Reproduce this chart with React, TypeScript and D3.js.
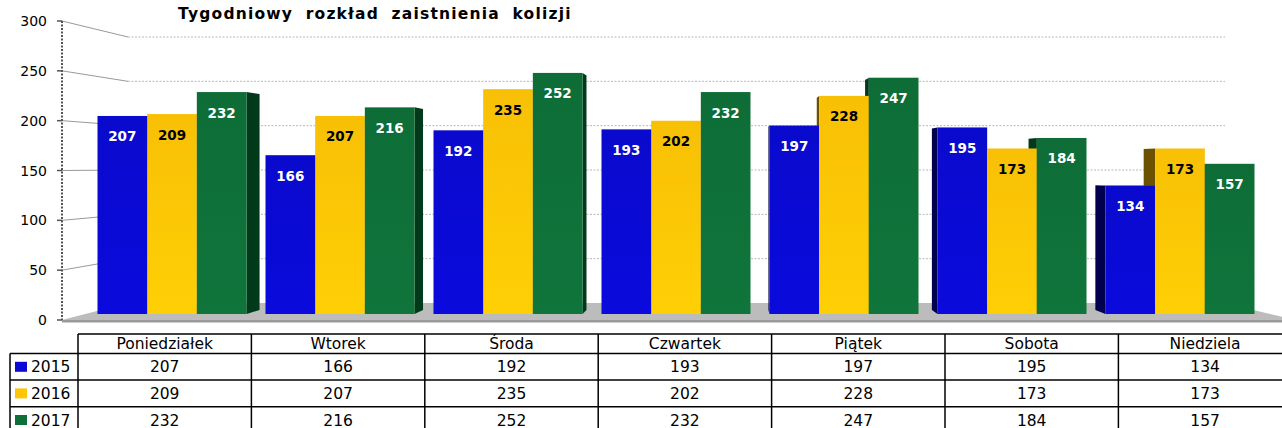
import React from "react";
import * as d3 from "d3";

const title = "Tygodniowy rozkład zaistnienia kolizji";
const days = ["Poniedziałek", "Wtorek", "Środa", "Czwartek", "Piątek", "Sobota", "Niedziela"];
const years = ["2015", "2016", "2017"];
const v2015 = [207, 166, 192, 193, 197, 195, 134];
const v2016 = [209, 207, 235, 202, 228, 173, 173];
const v2017 = [232, 216, 252, 232, 247, 184, 157];
const yTicks = [0, 50, 100, 150, 200, 250, 300];

const seriesValues = [v2015, v2016, v2017];
const frontColors = ["#0A0AD4", "#FFC605", "#0E7039"];
const sideColors = ["#00004E", "#6B5100", "#003A1A"];
const topColors = ["#3A3AE8", "#FFD855", "#2A8A50"];
const labelColors = ["#FFFFFF", "#000000", "#FFFFFF"];

const W = 1282;
const H = 428;
const VP: [number, number] = [730, 166];
const DEPTH = 0.027;

function back(p: [number, number]): [number, number] {
  return [p[0] + DEPTH * (VP[0] - p[0]), p[1] + DEPTH * (VP[1] - p[1])];
}
function pts(a: [number, number][]) {
  return a.map((p) => p[0].toFixed(2) + "," + p[1].toFixed(2)).join(" ");
}

export default function App() {
  // wall/axis scales (front plane and back plane)
  const yFront = d3.scaleLinear().domain([0, 300]).range([320, 21]);
  const yBack = d3.scaleLinear().domain([0, 300]).range([303, 37]);
  const xFrontL = 62;
  const xBackL = 128;
  const xBackR = 1225;
  // bar plane
  const x0 = d3.scaleBand<string>().domain(days).range([88, 1264]).paddingInner(0.113).paddingOuter(0.0565);
  const x1 = d3.scaleBand<string>().domain(years).range([0, x0.bandwidth()]);
  const yBar = d3.scaleLinear().domain([0, 300]).range([314, 27]);

  type Bar = { xl: number; xr: number; yt: number; yb: number; s: number; v: number };
  const bars: Bar[] = [];
  days.forEach((d, i) => {
    years.forEach((y, s) => {
      const xl = (x0(d) as number) + (x1(y) as number);
      const v = seriesValues[s][i];
      bars.push({ xl, xr: xl + x1.bandwidth(), yt: yBar(v), yb: yBar(0), s, v });
    });
  });

  // floor
  const floorFrontY = yFront(0);
  const floorBackY = yBack(0);
  const slopeR = (660 - xBackR) / (166 - floorBackY);
  const floorFrontR = xBackR + slopeR * (floorFrontY - floorBackY);

  // table
  const tX = d3.scaleBand<string>().domain(days).range([78, 78 + 7 * 173.4]);
  const headTop = 334;
  const headBot = 353.5;
  const rowH = 26.6;
  const tableBottom = headBot + 3 * rowH;

  const sides: JSX.Element[] = [];
  bars.forEach((b, k) => {
    const TL: [number, number] = [b.xl, b.yt];
    const TR: [number, number] = [b.xr, b.yt];
    const BR: [number, number] = [b.xr, b.yb];
    const BL: [number, number] = [b.xl, b.yb];
    if (b.xr < VP[0]) {
      sides.push(<polygon key={"s" + k} points={pts([TR, back(TR), back(BR), BR])} fill={sideColors[b.s]} />);
    } else if (b.xl > VP[0]) {
      sides.push(<polygon key={"s" + k} points={pts([TL, back(TL), back(BL), BL])} fill={sideColors[b.s]} />);
    }
    if (b.yt > VP[1]) {
      sides.push(<polygon key={"t" + k} points={pts([TL, TR, back(TR), back(TL)])} fill={topColors[b.s]} />);
    }
  });

  return (
    <div style={{ position: "absolute", left: 0, top: 0 }}>
      <svg width={W} height={H} style={{ display: "block", background: "#fff" }}>
        <defs>
          {frontColors.map((c, s) => (
            <linearGradient key={s} id={"g" + s} x1="0" y1="0" x2="0" y2="1">
              <stop offset="0" stopColor={d3.color(c)!.darker(0.08).formatHex()} />
              <stop offset="1" stopColor={d3.color(c)!.brighter(0.12).formatHex()} />
            </linearGradient>
          ))}
        </defs>
        {/* title */}
        <text
          x={178}
          y={19}
          fontFamily="DejaVu Sans"
          fontWeight="bold"
          fontSize={15.5}
          letterSpacing={1.2}
          wordSpacing={6}
          fill="#000"
        >
          {title}
        </text>

        {/* floor */}
        <polygon
          points={pts([
            [xFrontL, floorFrontY],
            [xBackL, floorBackY],
            [xBackR, floorBackY],
            [floorFrontR, floorFrontY],
          ])}
          fill="#BCBCBC"
        />
        <rect x={xFrontL} y={floorFrontY} width={W - xFrontL} height={2.5} fill="#9A9A9A" />

        {/* gridlines */}
        {yTicks.map((t) => (
          <g key={"gl" + t}>
            {t > 0 && (
              <>
                <line x1={xFrontL} y1={yFront(t)} x2={xBackL} y2={yBack(t)} stroke="#9A9A9A" strokeWidth={1} />
                <line x1={xBackL} y1={yBack(t)} x2={xBackR} y2={yBack(t)} stroke="#B8B8B8" strokeWidth={1} strokeDasharray="2,1.5" />
              </>
            )}
            <line x1={xFrontL - 5} y1={yFront(t)} x2={xFrontL} y2={yFront(t)} stroke="#555" strokeWidth={1.5} />
            <text x={47} y={yFront(t) + 5} textAnchor="end" fontFamily="DejaVu Sans" fontSize={14} fill="#000">
              {t}
            </text>
          </g>
        ))}
        <line x1={xFrontL} y1={yFront(300)} x2={xFrontL} y2={yFront(0)} stroke="#555" strokeWidth={2} strokeDasharray="2,1.5" />

        {/* bars */}
        {sides}
        {bars.map((b, k) => (
          <rect key={"f" + k} x={b.xl} y={b.yt} width={b.xr - b.xl} height={b.yb - b.yt} fill={`url(#g${b.s})`} />
        ))}
        {bars.map((b, k) => (
          <text
            key={"l" + k}
            x={(b.xl + b.xr) / 2}
            y={b.yt + 25.5}
            textAnchor="middle"
            fontFamily="DejaVu Sans"
            fontWeight="bold"
            fontSize={13.5}
            fill={labelColors[b.s]}
          >
            {b.v}
          </text>
        ))}

        {/* data table */}
        <g stroke="#000" strokeWidth={1.5} fill="none">
          <line x1={78} y1={headTop} x2={W} y2={headTop} />
          <line x1={10} y1={headBot} x2={W} y2={headBot} />
          {[1, 2].map((r) => (
            <line key={"hr" + r} x1={10} y1={headBot + r * rowH} x2={W} y2={headBot + r * rowH} />
          ))}
          <line x1={10} y1={headBot} x2={10} y2={tableBottom} />
          {days.map((d) => (
            <line key={"v" + d} x1={tX(d)} y1={headTop} x2={tX(d)} y2={tableBottom} />
          ))}
          <line x1={(tX(days[6]) as number) + tX.bandwidth()} y1={headTop} x2={(tX(days[6]) as number) + tX.bandwidth()} y2={tableBottom} />
        </g>
        {days.map((d) => (
          <text key={"h" + d} x={(tX(d) as number) + tX.bandwidth() / 2} y={headBot - 5} textAnchor="middle" fontFamily="DejaVu Sans" fontSize={15.5} fill="#000">
            {d}
          </text>
        ))}
        {years.map((y, s) => {
          const cy = headBot + s * rowH + rowH / 2;
          return (
            <g key={"row" + y}>
              <rect x={15} y={cy - 5} width={12} height={10} fill={frontColors[s]} />
              <text x={31} y={cy + 5.5} fontFamily="DejaVu Sans" fontSize={15.5} fill="#000">
                {y}
              </text>
              {days.map((d, i) => (
                <text key={d} x={(tX(d) as number) + tX.bandwidth() / 2} y={cy + 5.5} textAnchor="middle" fontFamily="DejaVu Sans" fontSize={15.5} fill="#000">
                  {seriesValues[s][i]}
                </text>
              ))}
            </g>
          );
        })}
      </svg>
    </div>
  );
}
